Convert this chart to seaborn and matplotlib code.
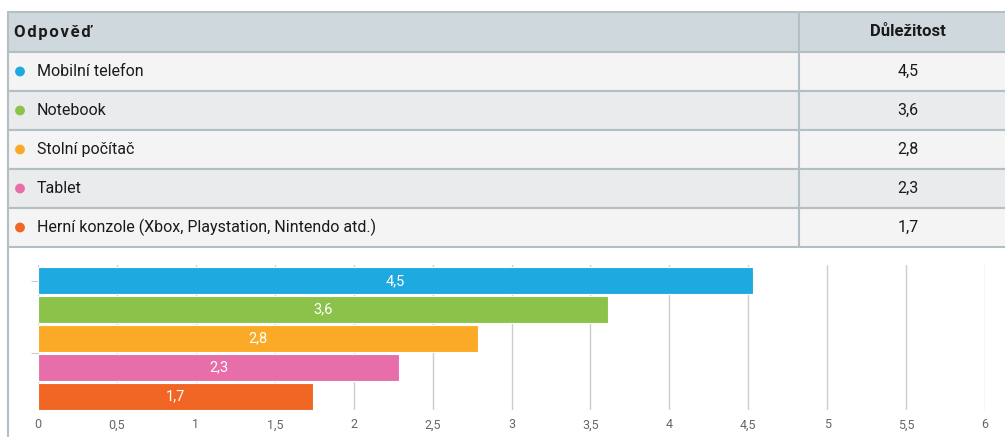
import matplotlib
matplotlib.use("Agg")
import matplotlib.pyplot as plt
import seaborn as sns
import pandas as pd
from matplotlib.patches import Rectangle, Circle

# data
odpovedi = ["Mobilní telefon", "Notebook", "Stolní počítač", "Tablet",
            "Herní konzole (Xbox, Playstation, Nintendo atd.)"]
dulezitost = [4.53, 3.61, 2.79, 2.29, 1.74]
popisky = ["4,5", "3,6", "2,8", "2,3", "1,7"]
barvy = ["#1fa9e1", "#8bc34a", "#fbaa27", "#e76ea9", "#f16624"]
xticks = [0, 0.5, 1, 1.5, 2, 2.5, 3, 3.5, 4, 4.5, 5, 5.5, 6]

sns.set_style("white")
plt.rcParams['font.family'] = ['Roboto', 'DejaVu Sans']

fig = plt.figure(figsize=(10.05, 4.37), dpi=100)

# tabulka nahoře (pixelove souradnice)
bg = fig.add_axes([0, 0, 1, 1])
bg.set_xlim(0, 1005)
bg.set_ylim(437, 0)
bg.axis("off")

hrana = "#b3bfc5"
top, hh, rh = 12, 40, 39
fs = 11.5
bg.add_patch(Rectangle((8, top), 1000, hh, facecolor="#cfd8dc", edgecolor=hrana, lw=1.5))
bg.text(14, top + hh / 2, "\u200a".join("Odpověď"), fontsize=fs + 0.5,
        fontweight="bold", va="center", ha="left", color="#1a1a1a")
bg.text(908, top + hh / 2, "Důležitost", fontsize=fs + 0.5, fontweight="bold",
        va="center", ha="center", color="#1a1a1a")
for i, (name, lab, c) in enumerate(zip(odpovedi, popisky, barvy)):
    y0 = top + hh + i * rh
    fc = "#f4f4f4" if i % 2 == 0 else "#e9ebec"
    bg.add_patch(Rectangle((8, y0), 1000, rh, facecolor=fc, edgecolor=hrana, lw=1.5))
    bg.add_patch(Circle((20, y0 + rh / 2), 4.2, color=c))
    bg.text(37, y0 + rh / 2, name, fontsize=fs, va="center", ha="left", color="#1a1a1a")
    bg.text(908, y0 + rh / 2, lab, fontsize=fs, va="center", ha="center", color="#1a1a1a")
bg.plot([799, 799], [top, top + hh + 5 * rh], color=hrana, lw=1.5)
bg.plot([8, 8], [top + hh + 5 * rh, 437], color=hrana, lw=1.5)

# graf
ax = fig.add_axes([38 / 1005, 1 - 410 / 437, (985 - 38) / 1005, (410 - 265) / 437])
df = pd.DataFrame({"odpoved": odpovedi, "hodnota": dulezitost})
sns.barplot(data=df, x="hodnota", y="odpoved", hue="odpoved", palette=barvy,
            orient="h", width=0.93, saturation=1, edgecolor="white", linewidth=0.8,
            legend=False, ax=ax, zorder=3)
for i, lab in enumerate(popisky):
    ax.text(dulezitost[i] / 2, i, lab, color="white", fontsize=10.5,
            ha="center", va="center", zorder=4)

ax.set_xlim(0, 6)
ax.set_ylim(4.47, -0.55)
ax.set_xticks(xticks)
ax.set_xticklabels([str(t).replace(".", ",").replace(",0", "") for t in xticks],
                   color="#666666", fontsize=9)
ax.set_yticks([0, 2.5])
ax.set_yticklabels(["", ""])
ax.tick_params(axis="y", length=5, color="#cccccc", left=True)
ax.tick_params(axis="x", length=0, pad=6)
ax.grid(axis="x", color="#cccccc", lw=1, zorder=0)
ax.set_xlabel("")
ax.set_ylabel("")
for s in ax.spines.values():
    s.set_visible(False)

fig.savefig("out.png", dpi=100)
